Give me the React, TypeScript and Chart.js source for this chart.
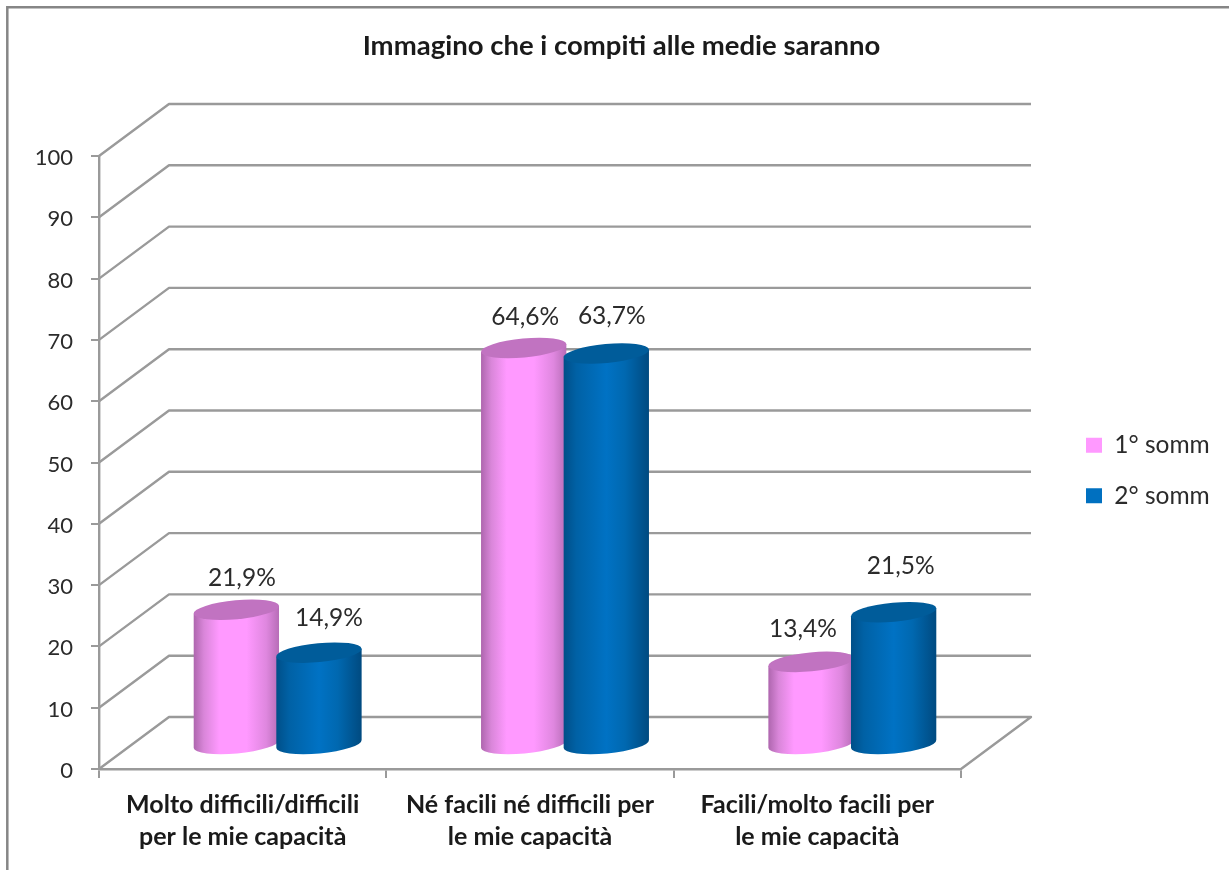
import { useEffect, useRef } from "react";
import { Chart, registerables } from "chart.js";

Chart.register(...registerables);

const categories = [
  ["Molto difficili/difficili", "per le mie capacità"],
  ["Né facili né difficili per", "le mie capacità"],
  ["Facili/molto facili per", "le mie capacità"],
];
const firstRound = [21.9, 64.6, 13.4];
const secondRound = [14.9, 63.7, 21.5];
const chartTitle = "Immagino che i compiti alle medie saranno";

const FONT = "Lato, 'Noto Sans', sans-serif";
const TEXT = "#2b2b2b";
const GRID = "#9a9a9a";
const FRAME = "#868686";

// Projection of the value axis onto the back wall of the box.
const DEPTH_X = 70;
const DEPTH_Y = -52;
// Cylinders stand half way into the box.
const BAR_DX = 35;
const BAR_DY = -25;
const TILT = -5.4 * (Math.PI / 180);

const bodyStops = [
  [
    [0, "#AE66AE"],
    [0.12, "#D986D9"],
    [0.3, "#FF99FF"],
    [0.62, "#FF99FF"],
    [0.85, "#DF87DF"],
    [1, "#B76DB7"],
  ],
  [
    [0, "#004F88"],
    [0.15, "#0061A5"],
    [0.5, "#0072C4"],
    [0.72, "#0068B0"],
    [1, "#004A80"],
  ],
];
const capColours = ["#C173C1", "#005C9A"];

// Hand placed offsets of the value labels from the top of each cylinder.
const labelOffsets = [
  [[5.5, -32], [10, -35]],
  [[1.5, -31], [5.5, -37]],
  [[-8, -33], [7, -46]],
];

const box3d = {
  id: "box3d",
  afterLayout(chart: any) {
    const title = chart.titleBlock;
    title.left = 14;
    title.right = 1229;
    const legend = chart.legend;
    const pad = legend.options.labels.padding;
    legend.left = 1086 - pad;
    legend.right = 1229;
    legend.top = 433 - pad;
    legend.bottom = 560;
  },
  beforeDraw(chart: any) {
    const { ctx } = chart;
    ctx.save();
    ctx.strokeStyle = FRAME;
    ctx.lineWidth = 2.5;
    ctx.beginPath();
    ctx.moveTo(7.3, 870);
    ctx.lineTo(7.3, 7.3);
    ctx.lineTo(1229, 7.3);
    ctx.stroke();
    ctx.restore();
  },
  beforeDatasetsDraw(chart: any) {
    const { ctx, chartArea, scales } = chart;
    ctx.save();
    ctx.strokeStyle = GRID;
    ctx.lineWidth = 2.4;
    ctx.lineJoin = "round";
    for (const tick of scales.y.ticks) {
      const y = scales.y.getPixelForValue(tick.value);
      ctx.beginPath();
      ctx.moveTo(chartArea.left, y);
      ctx.lineTo(chartArea.left + DEPTH_X, y + DEPTH_Y);
      ctx.lineTo(chartArea.right + DEPTH_X, y + DEPTH_Y);
      if (tick.value === 0) ctx.lineTo(chartArea.right, y);
      ctx.stroke();
    }
    ctx.restore();
  },
  beforeDatasetDraw() {
    // Bars are replaced by the cylinders painted in afterDatasetsDraw.
    return false;
  },
  afterDatasetsDraw(chart: any) {
    const { ctx, scales } = chart;
    const zero = scales.y.getPixelForValue(0);
    chart.data.labels.forEach((_: unknown, index: number) => {
      chart.data.datasets.forEach((dataset: any, di: number) => {
        const bar = chart.getDatasetMeta(di).data[index];
        const cx = bar.x + BAR_DX;
        const topY = bar.y + BAR_DY;
        const baseY = zero + BAR_DY;
        const rx = bar.width / 2 + 0.3;
        const ry = 9.5;
        const dx = rx * Math.cos(TILT);
        const dy = rx * Math.sin(TILT);

        const fill = ctx.createLinearGradient(cx - dx, 0, cx + dx, 0);
        bodyStops[di].forEach(([at, colour]) => fill.addColorStop(at as number, colour as string));
        ctx.save();
        ctx.fillStyle = fill;
        ctx.beginPath();
        ctx.moveTo(cx - dx, topY - dy);
        ctx.lineTo(cx - dx, baseY - dy);
        ctx.ellipse(cx, baseY, rx, ry, TILT, Math.PI, 0, true);
        ctx.lineTo(cx + dx, topY + dy);
        ctx.closePath();
        ctx.fill();
        ctx.fillStyle = capColours[di];
        ctx.beginPath();
        ctx.ellipse(cx, topY, rx, ry, TILT, 0, Math.PI * 2);
        ctx.fill();
        ctx.restore();
      });
    });

    ctx.save();
    ctx.font = `24.5px ${FONT}`;
    ctx.fillStyle = TEXT;
    ctx.textAlign = "center";
    ctx.textBaseline = "middle";
    chart.data.datasets.forEach((dataset: any, di: number) => {
      dataset.data.forEach((value: number, index: number) => {
        const bar = chart.getDatasetMeta(di).data[index];
        const [ox, oy] = labelOffsets[index][di];
        const text = `${value.toFixed(1).replace(".", ",")}%`;
        ctx.fillText(text, bar.x + BAR_DX + ox, bar.y + BAR_DY + oy);
      });
    });
    ctx.restore();
  },
};

export default function App() {
  const canvasRef = useRef<HTMLCanvasElement>(null);

  useEffect(() => {
    const chart = new Chart(canvasRef.current as HTMLCanvasElement, {
      type: "bar",
      data: {
        labels: categories,
        datasets: [
          { label: "1° somm", data: firstRound, backgroundColor: "#FF99FF" },
          { label: "2° somm", data: secondRound, backgroundColor: "#0070C0" },
        ],
      },
      plugins: [box3d],
      options: {
        responsive: false,
        animation: false,
        layout: { padding: { left: 0, top: 0, right: 268, bottom: 0 } },
        datasets: { bar: { categoryPercentage: 0.575, barPercentage: 1.03 } },
        plugins: {
          tooltip: { enabled: false },
          title: {
            display: true,
            text: chartTitle,
            color: "#1a1a1a",
            font: { family: FONT, size: 27.5, weight: "bold", lineHeight: 1.2 },
            padding: { top: 30, bottom: 93 },
          },
          legend: {
            position: "chartArea",
            align: "start",
            labels: {
              color: TEXT,
              font: { family: FONT, size: 24.5 },
              boxWidth: 16,
              boxHeight: 15,
              padding: 26,
            },
          },
        },
        scales: {
          x: {
            afterFit: (scale: any) => {
              scale.height = 101;
            },
            grid: {
              offset: true,
              drawOnChartArea: false,
              color: GRID,
              lineWidth: 2,
              tickLength: 9,
            },
            border: { color: GRID, width: 2.4 },
            ticks: {
              color: "#1a1a1a",
              font: { family: FONT, size: 25, weight: "bold", lineHeight: 1.28 },
              autoSkip: false,
              maxRotation: 0,
              padding: 11,
            },
          },
          y: {
            min: 0,
            max: 100,
            afterFit: (scale: any) => {
              scale.width = 99;
            },
            grid: {
              drawOnChartArea: false,
              color: GRID,
              lineWidth: 2,
              tickLength: 8,
            },
            border: { color: GRID, width: 2.4 },
            ticks: {
              stepSize: 10,
              color: TEXT,
              font: { family: FONT, size: 22 },
              padding: 18,
              labelOffset: 2,
            },
          },
        },
      } as any,
    });
    return () => chart.destroy();
  }, []);

  return (
    <div style={{ position: "fixed", left: 0, top: 0, width: 1229, height: 870, background: "#fff" }}>
      <canvas ref={canvasRef} width={1229} height={870} style={{ display: "block" }} />
    </div>
  );
}
